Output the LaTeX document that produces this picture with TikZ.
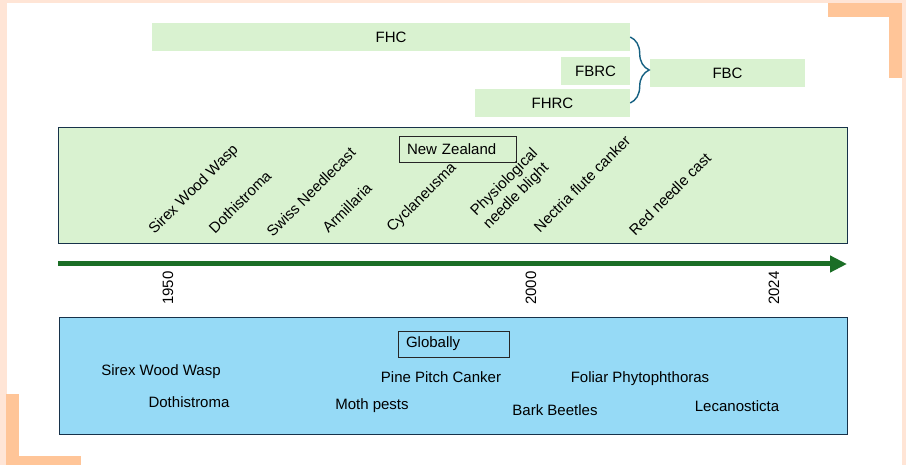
\documentclass[tikz,border=0pt]{standalone}
\usepackage{fontspec}
\setmainfont{Liberation Sans}
\usepackage{tikz}
\usetikzlibrary{arrows.meta,decorations.pathreplacing}
\definecolor{peach}{HTML}{FFE5D6}
\definecolor{accent}{HTML}{FFC598}
\definecolor{leaf}{HTML}{D9F2D0}
\definecolor{sky}{HTML}{96DAF6}
\definecolor{edge}{HTML}{17324A}
\definecolor{forest}{HTML}{1B6E26}
\definecolor{bracecol}{HTML}{156082}
\tikzset{
  txt/.style={font=\fontsize{15}{18}\selectfont, text=black},
  org/.style={txt, fill=leaf, inner sep=0pt, minimum height=28pt},
  panel/.style={draw=edge, line width=1pt, inner sep=0pt},
  tag/.style={txt, draw=black!85, line width=0.8pt, inner xsep=8pt, inner ysep=0pt, minimum height=26pt},
  pest/.style={txt, rotate=45, inner sep=1pt},
  year/.style={txt, rotate=90, inner sep=1pt},
  axis/.style={draw=forest, line width=5pt, -{Triangle[length=17pt,width=16pt]}},
}

\begin{document}
\begin{tikzpicture}[x=1pt,y=-1pt]
  \useasboundingbox (0,0) rectangle (906,465);
  % frame
  \fill[peach] (0,0) rectangle (906,465);
  \fill[white] (7,3) rectangle (902,465);
  \fill[accent] (828,3) rectangle (902,17);
  \fill[accent] (889,3) rectangle (902,78);
  \fill[accent] (6,394) rectangle (19,465);
  \fill[accent] (6,456) rectangle (81,465);

  % councils
  \node[org, minimum width=478pt] (fhc) at (391,37) {FHC};
  \node[org, minimum width=69pt] (fbrc) at (595.5,71) {FBRC};
  \node[org, minimum width=155pt] (fhrc) at (552.5,103) {FHRC};
  \node[org, minimum width=155pt] (fbc) at (727.5,73) {FBC};
  \draw[bracecol, line width=1.4pt, decorate, decoration={brace, amplitude=19pt}]
    (fhc.east) -- (fhc.east |- fhrc.east);

  % New Zealand
  \node[panel, fill=leaf, minimum width=789pt, minimum height=116pt] (nz) at (452.5,186) {};
  \node[tag, text width=101pt] (nzlab) at (457.5,149) {New Zealand};
  \node[pest] (sirex) at (194,190) {Sirex Wood Wasp};
  \node[pest] (dothi) at (240,202) {Dothistroma};
  \node[pest] (swiss) at (311,192) {Swiss Needlecast};
  \node[pest] (armil) at (347,208) {Armillaria};
  \node[pest] (cycla) at (422,198) {Cyclaneusma};
  \node[pest, align=left] (physio) at (511,189) {Physiological\\needle blight};
  \node[pest] (nectria) at (582,184) {Nectria flute canker};
  \node[pest] (redneedle) at (670,194) {Red needle cast};

  % timeline
  \coordinate (start) at (58,264);
  \coordinate (now) at (847,264);
  \draw[axis] (start) -- (now);
  \node[year] (y1950) at (168,288) {1950};
  \node[year] (y2000) at (531,288) {2000};
  \node[year] (y2024) at (774,288) {2024};

  % Globally
  \node[panel, fill=sky, minimum width=788pt, minimum height=116pt] (glob) at (453,376) {};
  \node[tag, text width=95pt] (globlab) at (453.5,344) {Globally};
  \node[txt] (gsirex) at (161,372) {Sirex Wood Wasp};
  \node[txt] (gdothi) at (189,402) {Dothistroma};
  \node[txt] (pitch) at (441,377) {Pine Pitch Canker};
  \node[txt] (moth) at (372,406) {Moth pests};
  \node[txt] (foliar) at (640,379) {Foliar Phytophthoras};
  \node[txt] (bark) at (555,410) {Bark Beetles};
  \node[txt] (lecano) at (737,406) {Lecanosticta};
\end{tikzpicture}
\end{document}
